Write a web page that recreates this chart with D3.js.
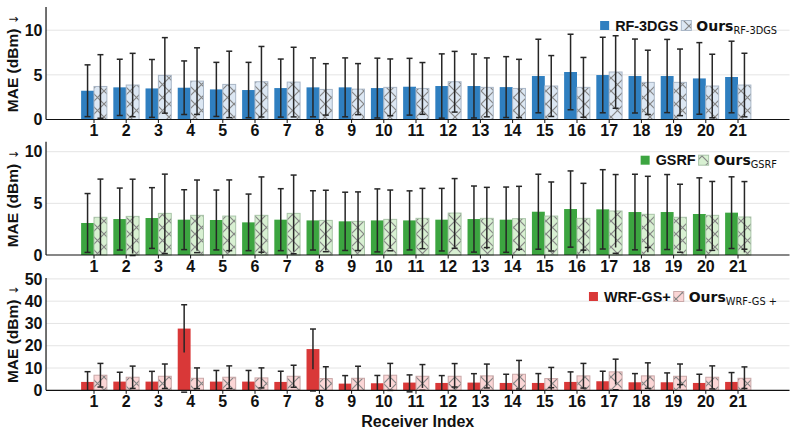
<!doctype html>
<html>
<head>
<meta charset="utf-8">
<title>MAE per receiver</title>
<style>
  body { margin: 0; background: #fff; }
  text { font-family: "Liberation Sans", Arial, sans-serif; fill: #111; }
</style>
<script src="https://d3js.org/d3.v7.min.js"></script>
</head>
<body>
<svg id="chart" width="797" height="433"></svg>
<script>
// receiver indices on the x axis
const RECEIVERS = [1, 2, 3, 4, 5, 6, 7, 8, 9, 10, 11, 12, 13, 14, 15, 16, 17, 18, 19, 20, 21];

// panel 1: RF-3DGS vs ours
const RF3DGS_MEAN = [3.22, 3.6, 3.48, 3.56, 3.37, 3.3, 3.52, 3.6, 3.6, 3.52, 3.67, 3.75, 3.75, 3.63, 4.87, 5.32, 4.98, 4.87, 4.87, 4.6, 4.76];
const RF3DGS_STD  = [2.9, 3.15, 3.24, 3.0, 3.03, 3.1, 3.25, 3.3, 3.3, 3.35, 3.18, 3.6, 3.58, 3.41, 4.12, 4.23, 4.23, 4.14, 4.1, 4.01, 4.01];
const OURS_RF3DGS_MEAN = [3.7, 3.86, 4.94, 4.3, 3.93, 4.23, 4.19, 3.37, 3.4, 3.6, 3.48, 4.23, 3.6, 3.48, 3.75, 3.6, 5.32, 4.16, 4.16, 3.75, 3.86];
const OURS_RF3DGS_STD  = [3.56, 3.55, 4.23, 3.73, 3.72, 3.95, 3.9, 2.88, 2.86, 3.18, 2.9, 3.4, 3.3, 3.26, 3.41, 3.35, 4.06, 3.6, 3.73, 3.56, 3.56];

// panel 2: GSRF vs ours
const GSRF_MEAN = [3.1, 3.48, 3.58, 3.42, 3.39, 3.16, 3.42, 3.35, 3.26, 3.35, 3.35, 3.42, 3.48, 3.42, 4.19, 4.45, 4.42, 4.16, 4.16, 3.97, 4.1];
const GSRF_STD  = [2.85, 3.0, 2.94, 2.9, 2.9, 2.74, 3.0, 2.87, 2.82, 3.05, 2.86, 3.03, 3.2, 3.16, 3.63, 3.69, 3.84, 3.66, 3.63, 3.5, 3.47];
const OURS_GSRF_MEAN = [3.65, 3.74, 4.03, 3.84, 3.77, 3.84, 4.03, 3.35, 3.26, 3.45, 3.55, 4.06, 3.55, 3.52, 3.77, 3.55, 4.26, 3.94, 3.65, 3.84, 3.68];
const OURS_GSRF_STD  = [3.7, 3.6, 3.8, 3.42, 3.5, 3.72, 3.71, 2.92, 2.85, 2.84, 2.9, 3.34, 3.0, 3.13, 3.3, 3.39, 3.53, 3.68, 3.2, 3.28, 3.43];

// panel 3: WRF-GS+ vs ours
const WRFGS_MEAN = [3.76, 3.9, 3.9, 27.7, 3.9, 3.9, 3.76, 18.5, 3.0, 3.16, 3.46, 3.3, 3.46, 3.3, 3.3, 3.76, 4.06, 3.6, 3.6, 3.3, 3.76];
const WRFGS_STD  = [4.6, 4.2, 4.6, 10.7, 5.0, 5.0, 4.8, 9.0, 3.6, 3.5, 3.45, 3.3, 4.0, 3.9, 4.2, 4.5, 4.5, 3.9, 4.2, 3.9, 4.2];
const OURS_WRFGS_MEAN = [6.77, 5.86, 6.3, 5.4, 5.86, 5.56, 6.3, 5.26, 5.4, 6.77, 6.3, 6.3, 6.47, 7.2, 5.26, 6.47, 8.27, 6.47, 6.3, 5.86, 5.4];
const OURS_WRFGS_STD  = [5.3, 5.0, 5.5, 4.65, 5.1, 4.5, 4.95, 5.3, 5.4, 5.3, 5.25, 5.7, 5.3, 6.2, 5.0, 5.6, 5.7, 5.85, 5.5, 5.1, 5.1];

const Y_TICKS_SMALL = [0, 5, 10];
const Y_TICKS_LARGE = [0, 10, 20, 30, 40, 50];

const panels = [
  { top: 7, bottom: 119.5, ymax: 12.6, ticks: Y_TICKS_SMALL,
    base: RF3DGS_MEAN, baseStd: RF3DGS_STD, ours: OURS_RF3DGS_MEAN, oursStd: OURS_RF3DGS_STD,
    solid: "#2f7fc0", light: "#dce7f3", edge: "#a9b6c6", name: "RF-3DGS", sub: "RF-3DGS" },
  { top: 141.7, bottom: 255, ymax: 10.97, ticks: Y_TICKS_SMALL,
    base: GSRF_MEAN, baseStd: GSRF_STD, ours: OURS_GSRF_MEAN, oursStd: OURS_GSRF_STD,
    solid: "#3ca540", light: "#d8f0d2", edge: "#a9c4a8", name: "GSRF", sub: "GSRF" },
  { top: 278, bottom: 390.3, ymax: 50.4, ticks: Y_TICKS_LARGE,
    base: WRFGS_MEAN, baseStd: WRFGS_STD, ours: OURS_WRFGS_MEAN, oursStd: OURS_WRFGS_STD,
    solid: "#d93838", light: "#fbd6d6", edge: "#c9a8a8", name: "WRF-GS+", sub: "WRF-GS +" }
];

const svg = d3.select("#chart");
const defs = svg.append("defs");

// group centres: 1 -> 94px, 21 -> 738px
const x = d3.scaleLinear().domain([1, 21]).range([94, 738]);
const xLeft = x(-0.49), xRight = x(22.6);
const barW = 0.4;
const HS = 13; // hatch period

panels.forEach((p, i) => {
  const pid = "hatch" + i;
  const pat = defs.append("pattern")
    .attr("id", pid).attr("patternUnits", "userSpaceOnUse")
    .attr("width", HS).attr("height", HS);
  pat.append("rect").attr("width", HS).attr("height", HS).attr("fill", p.light);
  pat.append("path")
    .attr("d", `M0,0L${HS},${HS}M${HS},0L0,${HS}M-1,${HS - 1}L1,${HS + 1}M${HS - 1},-1L${HS + 1},1`)
    .attr("stroke", "#858585").attr("stroke-width", 1.2).attr("fill", "none");

  const y = d3.scaleLinear().domain([0, p.ymax]).range([p.bottom, p.top]);
  const g = svg.append("g");

  // grid
  g.selectAll(".grid").data(p.ticks.filter(t => t > 0)).enter().append("line")
    .attr("x1", xLeft).attr("x2", xRight)
    .attr("y1", d => y(d)).attr("y2", d => y(d))
    .attr("stroke", "#e4e4e4").attr("stroke-width", 1);

  const series = [
    { mean: p.base, std: p.baseStd, off: -barW / 2, fill: p.solid, stroke: "none" },
    { mean: p.ours, std: p.oursStd, off: barW / 2, fill: "url(#" + pid + ")", stroke: p.edge }
  ];

  series.forEach(s => {
    g.selectAll(null).data(RECEIVERS).enter().append("rect")
      .attr("x", (d, k) => x(d + s.off - barW / 2))
      .attr("width", x(barW) - x(0))
      .attr("y", (d, k) => y(s.mean[k]))
      .attr("height", (d, k) => y(0) - y(s.mean[k]))
      .attr("fill", s.fill)
      .attr("stroke", s.stroke).attr("stroke-width", 1);
  });

  series.forEach(s => {
    const eb = g.selectAll(null).data(RECEIVERS).enter().append("g")
      .attr("stroke", "#262626").attr("stroke-width", 1.5);
    eb.append("line")
      .attr("x1", d => x(d + s.off)).attr("x2", d => x(d + s.off))
      .attr("y1", (d, k) => y(Math.max(0, s.mean[k] - s.std[k])))
      .attr("y2", (d, k) => y(s.mean[k] + s.std[k]));
    eb.append("line")
      .attr("x1", d => x(d + s.off) - 3).attr("x2", d => x(d + s.off) + 3)
      .attr("y1", (d, k) => y(s.mean[k] + s.std[k]))
      .attr("y2", (d, k) => y(s.mean[k] + s.std[k]));
    eb.filter((d, k) => s.mean[k] - s.std[k] > 0).append("line")
      .attr("x1", d => x(d + s.off) - 3).attr("x2", d => x(d + s.off) + 3)
      .attr("y1", (d, k) => y(s.mean[k] - s.std[k]))
      .attr("y2", (d, k) => y(s.mean[k] - s.std[k]));
  });

  // axes
  g.append("line").attr("x1", xLeft).attr("x2", xRight)
    .attr("y1", y(0)).attr("y2", y(0)).attr("stroke", "#111").attr("stroke-width", 1.2);
  g.append("line").attr("x1", xLeft).attr("x2", xLeft)
    .attr("y1", p.top).attr("y2", y(0)).attr("stroke", "#111").attr("stroke-width", 1.2);

  g.selectAll(null).data(RECEIVERS).enter().append("line")
    .attr("x1", d => x(d)).attr("x2", d => x(d))
    .attr("y1", y(0)).attr("y2", y(0) + 3.5)
    .attr("stroke", "#111").attr("stroke-width", 1);
  g.selectAll(null).data(RECEIVERS).enter().append("text")
    .attr("x", d => x(d)).attr("y", y(0) + 16.5)
    .attr("text-anchor", "middle")
    .style("font-size", "16px").style("font-weight", "bold")
    .text(d => d);

  g.selectAll(null).data(p.ticks).enter().append("text")
    .attr("x", xLeft - 3.5).attr("y", d => y(d)).attr("dy", "0.36em")
    .attr("text-anchor", "end")
    .style("font-size", "16px").style("font-weight", "bold")
    .text(d => d);

  const ylab = g.append("text")
    .attr("transform", "translate(18," + ((p.top + p.bottom) / 2) + ") rotate(-90)")
    .attr("text-anchor", "middle")
    .style("font-size", "15.5px").style("font-weight", "bold");
  ylab.append("tspan").text("MAE (dBm) ");
  ylab.append("tspan").style("font-weight", "normal").style("font-size", "12px")
    .style("font-family", "DejaVu Sans").text("↓");

  // legend, right aligned at 777
  const lg = g.append("g");
  const cy = p.top + 18.5;
  const t1 = lg.append("text").attr("y", cy + 5)
    .style("font-size", "14.4px").style("font-weight", "bold").text(p.name);
  const t2 = lg.append("text").attr("y", cy + 5)
    .style("font-family", "DejaVu Sans").style("font-size", "14px").style("font-weight", "bold").text("Ours");
  const t3 = lg.append("text").attr("y", cy + 8)
    .style("font-family", "DejaVu Sans").style("font-size", "9.8px").text(p.sub);
  const w1 = t1.node().getComputedTextLength();
  const w2 = t2.node().getComputedTextLength();
  const w3 = t3.node().getComputedTextLength();
  let xr = 777;
  t3.attr("x", xr - w3); xr -= w3;
  t2.attr("x", xr - w2); xr -= w2 + 5;
  lg.append("rect").attr("x", xr - 10).attr("y", cy - 5).attr("width", 10).attr("height", 10)
    .attr("fill", "url(#" + pid + ")").attr("stroke", p.edge);
  xr -= 10 + 3;
  t1.attr("x", xr - w1); xr -= w1 + 6;
  lg.append("rect").attr("x", xr - 9).attr("y", cy - 4.5).attr("width", 9).attr("height", 9)
    .attr("fill", p.solid);
});

svg.append("text")
  .attr("x", (xLeft + xRight) / 2).attr("y", 427)
  .attr("text-anchor", "middle")
  .style("font-size", "16px").style("font-weight", "bold")
  .text("Receiver Index");
</script>
</body>
</html>
